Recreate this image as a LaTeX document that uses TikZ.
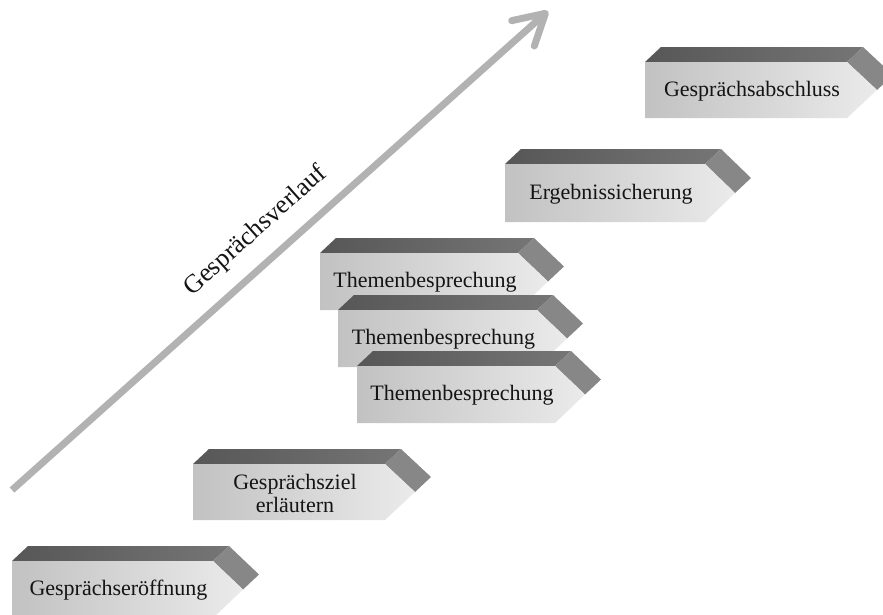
\documentclass[tikz,border=0pt]{standalone}
\usepackage{fontspec}
\setmainfont{Liberation Serif}
\usetikzlibrary{arrows.meta}

\tikzset{
  topface/.style={left color=black!66, right color=black!54},
  sideface/.style={fill=black!47},
  frontface/.style={left color=black!24, right color=black!8},
  blocktext/.style={text=black!92, font=\fontsize{22}{23}\selectfont, align=center, inner sep=0pt},
  flowarrow/.style={draw=black!30, line width=7pt, -{Straight Barb[length=30pt,width=34pt,round]}},
  flowlabel/.style={text=black!92, font=\fontsize{26}{27}\selectfont, inner sep=0pt}
}

% 3-D arrow-shaped step: name, left, top, width, height, text
\newcommand\gblock[6]{%
  \pgfmathsetmacro\gL{#2}\pgfmathsetmacro\gT{#3}%
  \pgfmathsetmacro\gR{#2+#4}\pgfmathsetmacro\gB{#3+#5}%
  \pgfmathsetmacro\gM{#3+#5/2}\pgfmathsetmacro\gP{#2+#4+30}%
  \shade[topface] (\gL,\gT) -- (\gL+16,\gT-15) -- (\gR+16,\gT-15) -- (\gR,\gT) -- cycle;
  \fill[sideface] (\gR,\gT) -- (\gR+16,\gT-15) -- (\gP+16,\gM-15) -- (\gP,\gM) -- cycle;
  \shade[frontface] (\gL,\gT) -- (\gR,\gT) -- (\gP,\gM) -- (\gR,\gB) -- (\gL,\gB) -- cycle;
  \node[blocktext] (#1) at (\gL+#4/2+6,\gM+1) {#6};
}

\begin{document}
\begin{tikzpicture}[x=1pt,y=-1pt]
  \useasboundingbox (0,0) rectangle (883,614);
  \clip (0,0) rectangle (883,614);

  % rising arrow with its label
  \coordinate (start) at (12,490);
  \coordinate (finish) at (548,11);
  \draw[flowarrow] (start) -- (finish);
  \node[flowlabel, rotate=41.7] (verlauf) at (256,231) {Gesprächsverlauf};

  % steps of the conversation
  \gblock{open}{12}{561}{201}{57}{Gesprächseröffnung}
  \gblock{goal}{193}{464}{192}{56}{Gesprächsziel\\erläutern}
  \gblock{topicA}{320}{253}{198}{57}{Themenbesprechung}
  \gblock{topicB}{338}{310}{199}{57}{Themenbesprechung}
  \gblock{topicC}{357}{366}{198}{57}{Themenbesprechung}
  \gblock{result}{505}{164}{200}{58}{Ergebnissicherung}
  \gblock{close}{645}{62}{202}{56}{Gesprächsabschluss}
\end{tikzpicture}
\end{document}
